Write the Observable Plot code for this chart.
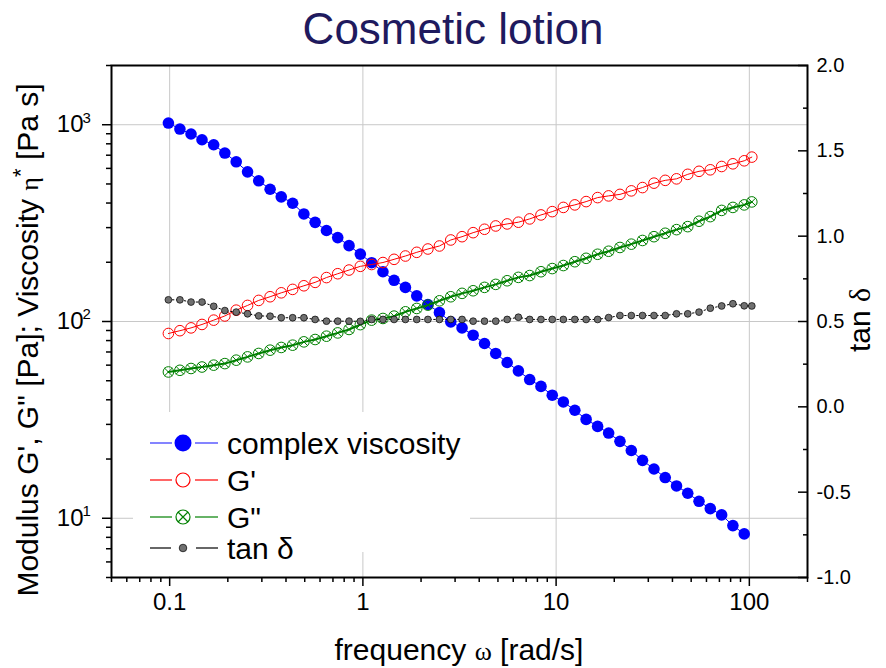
<!DOCTYPE html>
<html>
<head>
<meta charset="utf-8">
<script src="https://cdn.jsdelivr.net/npm/d3@7"></script>
<script src="https://cdn.jsdelivr.net/npm/@observablehq/plot@0.6"></script>
<style>
  body { margin: 0; background: #fff; }
</style>
</head>
<body>
<div id="chart"></div>
<script>
// Oscillatory frequency sweep of a cosmetic lotion
const freq = [0.0985, 0.113, 0.129, 0.147, 0.169, 0.193, 0.221, 0.253, 0.289, 0.331,
  0.378, 0.433, 0.495, 0.566, 0.648, 0.741, 0.848, 0.970, 1.11, 1.27,
  1.45, 1.66, 1.90, 2.17, 2.49, 2.85, 3.26, 3.72, 4.26, 4.87,
  5.58, 6.38, 7.30, 8.35, 9.55, 10.9, 12.5, 14.3, 16.4, 18.7,
  21.4, 24.5, 28.0, 32.1, 36.7, 42.0, 48.0, 54.9, 62.8, 71.9,
  82.2, 94.1, 103];

// complex viscosity |eta*| [Pa s]
const viscosity = [1020, 951, 897, 839, 791, 718, 648, 576, 519, 470,
  430, 399, 352, 319, 290, 267, 243, 220, 199, 179,
  162, 149, 135, 122, 111, 99.6, 92.8, 85.2, 77.3, 68.8,
  61.9, 56.1, 50.7, 46.8, 42.2, 39.0, 35.4, 31.8, 29.3, 27.1,
  24.6, 22.1, 19.7, 17.8, 16.1, 14.6, 13.4, 12.2, 11.2, 10.4,
  9.18, 8.33];

// storage modulus G' [Pa]
const storageModulus = [86.9, 89.8, 92.8, 96.6, 101.6, 106.7, 114.2, 120.7, 128.0, 133.6,
  139.9, 145.6, 151.9, 158.1, 167.2, 174.9, 182.6, 190.7, 194.8, 199.4,
  207.0, 215.2, 224.7, 233.6, 242.0, 259.6, 269.8, 282.8, 294.3, 305.9,
  313.2, 319.6, 332.2, 348.0, 361.7, 380.0, 391.4, 406.8, 426.3, 434.9,
  442.6, 461.2, 479.4, 504.8, 521.6, 530.9, 559.7, 579.8, 590.1, 613.4,
  633.0, 655.7, 684.7];

// loss modulus G'' [Pa]
const lossModulus = [55.4, 56.5, 57.7, 58.7, 60.0, 61.1, 63.6, 66.1, 68.8, 71.5,
  73.8, 75.8, 78.8, 81.0, 84.2, 87.5, 91.1, 96.4, 101.6, 103.6,
  106.5, 112.0, 116.5, 121.1, 127.4, 133.6, 139.0, 143.3, 149.1, 154.4,
  161.1, 167.6, 171.2, 179.0, 185.8, 192.5, 201.3, 209.5, 219.6, 227.5,
  237.8, 247.2, 258.1, 269.8, 280.8, 293.0, 303.5, 323.3, 341.2, 366.9,
  380.0, 391.4, 405.3];

// loss factor tan delta (right axis)
const tanDelta = [0.627, 0.627, 0.614, 0.614, 0.589, 0.564, 0.555, 0.545, 0.533, 0.531,
  0.522, 0.522, 0.522, 0.512, 0.502, 0.502, 0.502, 0.501, 0.512, 0.512,
  0.512, 0.512, 0.512, 0.512, 0.512, 0.512, 0.512, 0.502, 0.502, 0.502,
  0.512, 0.525, 0.512, 0.512, 0.512, 0.512, 0.512, 0.512, 0.512, 0.523,
  0.535, 0.535, 0.535, 0.535, 0.535, 0.545, 0.545, 0.555, 0.578, 0.591,
  0.604, 0.592, 0.591];

const xTicks = [0.1, 1, 10, 100];
const xTickLabels = ["0.1", "1", "10", "100"];
const yTicks = [10, 100, 1000];
const yTickExponents = ["1", "2", "3"];
const tanTicks = [-1.0, -0.5, 0.0, 0.5, 1.0, 1.5, 2.0];
const tanTickLabels = ["-1.0", "-0.5", "0.0", "0.5", "1.0", "1.5", "2.0"];
const tanMinorTicks = [-0.75, -0.25, 0.25, 0.75, 1.25, 1.75];
const legendLabels = ["complex viscosity", "G'", "G\"", "tan \u03b4"];

const xDomain = [0.05, 200];
const yDomain = [5, 2000];
const tanDomain = [-1.0, 2.0];

// tan delta shares the frame with the log axis: map its linear range onto it
const toLeft = t => yDomain[0] * Math.pow(yDomain[1] / yDomain[0], (t - tanDomain[0]) / (tanDomain[1] - tanDomain[0]));

// minor log ticks (2..9 of each decade) inside a domain
const minorLog = ([lo, hi]) => {
  const out = [];
  for (let e = -3; e <= 4; e++) for (let m = 2; m <= 9; m++) {
    const v = m * Math.pow(10, e);
    if (v >= lo * 0.999 && v <= hi * 1.001) out.push(v);
  }
  return out;
};

const viscData = viscosity.map((v, i) => ({f: freq[i], v}));
const gpData = storageModulus.map((v, i) => ({f: freq[i], v}));
const gppData = lossModulus.map((v, i) => ({f: freq[i], v}));
const tanData = tanDelta.map((t, i) => ({f: freq[i], v: toLeft(t)}));
const tanTickData = tanTicks.map((t, i) => ({v: toLeft(t), label: tanTickLabels[i]}));

const FONT = "'Liberation Sans', Arial, Helvetica, sans-serif";
const SERIF = "'Liberation Serif', 'DejaVu Serif', serif";
const W = 886, H = 668;
const M = {left: 111, right: 79, top: 65, bottom: 91};

const chart = Plot.plot({
  width: W,
  height: H,
  marginLeft: M.left,
  marginRight: M.right,
  marginTop: M.top,
  marginBottom: M.bottom,
  style: {fontFamily: FONT, background: "#fff", color: "#000"},
  x: {type: "log", domain: xDomain, label: null},
  y: {type: "log", domain: yDomain, label: null},
  marks: [
    Plot.gridX(xTicks, {stroke: "#c8c8c8", strokeOpacity: 1, strokeWidth: 1}),
    Plot.gridY(yTicks, {stroke: "#c8c8c8", strokeOpacity: 1, strokeWidth: 1}),

    Plot.line(viscData, {x: "f", y: "v", stroke: "#0000ff", strokeWidth: 1}),
    Plot.dot(viscData, {x: "f", y: "v", r: 5.8, fill: "#0000ff", stroke: "none"}),

    Plot.line(gpData, {x: "f", y: "v", stroke: "#ff0000", strokeWidth: 1}),
    Plot.dot(gpData, {x: "f", y: "v", r: 5.3, fill: "none", stroke: "#ff0000", strokeWidth: 1}),

    Plot.line(gppData, {x: "f", y: "v", stroke: "#008000", strokeWidth: 2}),
    Plot.dot(gppData, {x: "f", y: "v", r: 5.3, fill: "none", stroke: "#008000", strokeWidth: 1}),
    Plot.dot(gppData, {x: "f", y: "v", r: 3.7, symbol: "times", stroke: "#008000", strokeWidth: 1}),

    Plot.line(tanData, {x: "f", y: "v", stroke: "#000", strokeWidth: 1, strokeDasharray: "1.5,2.5"}),
    Plot.dot(tanData, {x: "f", y: "v", r: 3.4, fill: "#707070", stroke: "#000", strokeWidth: 0.7}),

    Plot.frame({stroke: "#000", strokeWidth: 2}),

    // bottom axis
    Plot.axisX(xTicks, {tickSize: 9, tickPadding: 6, strokeWidth: 1.5, fontSize: 24,
      tickFormat: d => xTickLabels[xTicks.indexOf(d)], label: null}),
    Plot.axisX(minorLog(xDomain), {tickSize: 5, strokeWidth: 1.5, text: null, label: null}),

    // left axis
    Plot.axisY(yTicks, {anchor: "left", tickSize: 9, strokeWidth: 1.5, text: null, label: null}),
    Plot.axisY(minorLog(yDomain), {anchor: "left", tickSize: 5, strokeWidth: 1.5, text: null, label: null}),
    Plot.text(yTicks, {y: d => d, text: () => "10", frameAnchor: "left", textAnchor: "end",
      dx: -28, fontSize: 24}),
    Plot.text(yTicks, {y: d => d, text: (d, i) => yTickExponents[i], frameAnchor: "left",
      textAnchor: "start", dx: -29, dy: -7, fontSize: 15}),

    // right axis (tan delta), ticks pointing inward
    Plot.axisY(tanTickData.map(d => d.v), {anchor: "right", tickSize: -10, strokeWidth: 1.5, text: null, label: null}),
    Plot.axisY(tanMinorTicks.map(toLeft), {anchor: "right", tickSize: -5, strokeWidth: 1.5, text: null, label: null}),
    Plot.text(tanTickData, {y: "v", text: "label", frameAnchor: "right", textAnchor: "start",
      dx: 9, fontSize: 20})
  ]
});

document.getElementById("chart").appendChild(chart);

const svg = d3.select(chart);

// title
svg.append("text")
  .attr("x", 453).attr("y", 44)
  .attr("text-anchor", "middle")
  .attr("font-family", FONT).attr("font-size", 44)
  .attr("fill", "#1f1a5e")
  .text("Cosmetic lotion");

// left axis title
const yTitle = svg.append("text")
  .attr("transform", "translate(38,340) rotate(-90)")
  .attr("text-anchor", "middle")
  .attr("font-family", FONT).attr("font-size", 30).attr("fill", "#000");
yTitle.append("tspan").text("Modulus G', G\" [Pa]; Viscosity ");
yTitle.append("tspan").attr("font-family", SERIF).attr("font-size", 26).text("\u03b7");
yTitle.append("tspan").attr("font-size", 22).attr("dy", -10).text("*");
yTitle.append("tspan").attr("dy", 10).text(" [Pa s]");

// right axis title
const rTitle = svg.append("text")
  .attr("transform", "translate(870,320) rotate(-90)")
  .attr("text-anchor", "middle")
  .attr("font-family", FONT).attr("font-size", 30).attr("fill", "#000");
rTitle.append("tspan").text("tan ");
rTitle.append("tspan").attr("font-family", SERIF).text("\u03b4");

// bottom axis title
const xTitle = svg.append("text")
  .attr("x", 459).attr("y", 660)
  .attr("text-anchor", "middle")
  .attr("font-family", FONT).attr("font-size", 30).attr("fill", "#000");
xTitle.append("tspan").text("frequency ");
xTitle.append("tspan").attr("font-family", SERIF).attr("font-size", 26).text("\u03c9");
xTitle.append("tspan").text(" [rad/s]");

// legend
const lg = svg.append("g").attr("text-anchor", "start");
lg.append("rect").attr("x", 133).attr("y", 412).attr("width", 337).attr("height", 140).attr("fill", "#fff");
lg.append("rect").attr("x", 133).attr("y", 552).attr("width", 215).attr("height", 24).attr("fill", "#fff");

const rows = [443, 480, 517, 548];
const lineColors = ["#3333ff", "#ff0000", "#008000", "#000"];
const mx = 183;
rows.forEach((yy, i) => {
  const gap = i === 3 ? 11 : 10;
  lg.append("line").attr("x1", 150).attr("x2", mx - gap - 1).attr("y1", yy).attr("y2", yy)
    .attr("stroke", lineColors[i]).attr("stroke-width", 1.2);
  lg.append("line").attr("x1", mx + gap + 2).attr("x2", 218).attr("y1", yy).attr("y2", yy)
    .attr("stroke", lineColors[i]).attr("stroke-width", 1.2);
  lg.append("text").attr("x", 227).attr("y", yy).attr("dy", "0.35em")
    .attr("text-anchor", "start")
    .attr("font-family", FONT).attr("font-size", 30).attr("fill", "#000")
    .text(legendLabels[i]);
});
lg.append("circle").attr("cx", mx).attr("cy", rows[0]).attr("r", 8.5).attr("fill", "#0000ff");
lg.append("circle").attr("cx", mx).attr("cy", rows[1]).attr("r", 7).attr("fill", "none").attr("stroke", "#ff0000").attr("stroke-width", 1.2);
lg.append("circle").attr("cx", mx).attr("cy", rows[2]).attr("r", 7).attr("fill", "none").attr("stroke", "#008000").attr("stroke-width", 1.2);
lg.append("path").attr("d", `M${mx - 5},${rows[2] - 5}L${mx + 5},${rows[2] + 5}M${mx - 5},${rows[2] + 5}L${mx + 5},${rows[2] - 5}`)
  .attr("stroke", "#008000").attr("stroke-width", 1.2);
lg.append("circle").attr("cx", mx).attr("cy", rows[3]).attr("r", 3.8).attr("fill", "#707070").attr("stroke", "#000").attr("stroke-width", 0.7);
</script>
</body>
</html>
